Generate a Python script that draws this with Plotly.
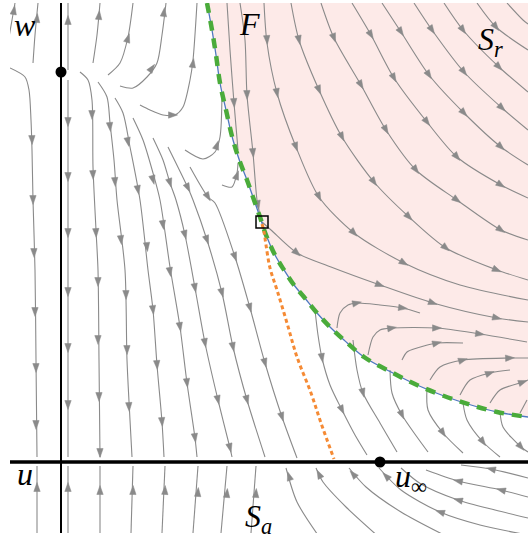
import math
import plotly.graph_objects as go

# ---------------- data (u, w) ----------------
U_RANGE = [-51, 467]
W_RANGE = [-71, 459]

fold_u = [146, 151, 155, 159, 165, 172, 179, 186, 193, 199, 205, 214, 223, 233, 243, 256, 269, 283, 303, 330, 356, 383, 410, 436, 467]
fold_w = [459, 432, 407, 379, 352, 322, 300, 282, 262, 245, 227, 207, 192, 177, 165, 149, 135, 122, 105, 90, 77, 66, 57, 50, 45]

canard_u = [201, 203, 205, 209, 216, 226, 236, 250, 260, 273]
canard_w = [238, 230, 217, 194, 172, 139, 105, 69, 39, 3]

fold_point = (201, 240)
equilibria_u = [0, 319]
equilibria_w = [390, 0]

# streamlines in the attracting sheet, upper fan (points in flow order, arrow positions)
fan_lines = [
    ([(-51, 394), (-36, 385), (-32, 372), (-30, 342), (-29, 312), (-28, 262), (-26, 192), (-25, 102), (-24, 5)],
     [(-29, 322), (-28, 262), (-27, 209), (-26, 150), (-25, 94), (-25, 37)]),
    ([(7, 382), (7, 5)], [(7, 340), (7, 285), (7, 229), (7, 170), (7, 114), (7, 57)]),
    ([(19, 390), (27, 382), (31, 362), (32, 295), (35, 232), (37, 192), (38, 102), (39, 5)],
     [(31, 347), (32, 287), (35, 229), (37, 180), (37, 122), (38, 65), (39, 9)]),
    ([(37, 380), (46, 365), (49, 339), (53, 302), (56, 262), (64, 192), (66, 102), (69, 42), (71, 5)],
     [(49, 335), (54, 280), (60, 222), (65, 167), (66, 112), (68, 55)]),
    ([(54, 364), (62, 349), (69, 315), (79, 262), (87, 192), (92, 152), (96, 97), (101, 40), (103, 5)],
     [(67, 320), (77, 272), (86, 215), (92, 152), (96, 97), (101, 40)]),
    ([(72, 344), (82, 322), (92, 289), (99, 262), (109, 195), (119, 135), (126, 79), (134, 24), (136, 5)],
     [(92, 282), (102, 237), (109, 190), (119, 135), (126, 79), (134, 24)]),
    ([(92, 324), (102, 302), (109, 279), (115, 262), (124, 227), (134, 174), (144, 119), (157, 62), (169, 14), (171, 5)],
     [(109, 279), (124, 227), (134, 174), (144, 119), (157, 62), (169, 14)]),
    ([(107, 315), (127, 274), (132, 262), (146, 222), (161, 169), (172, 115), (186, 62), (204, 5)],
     [(127, 274), (146, 222), (161, 169), (172, 115), (186, 62)]),
    ([(129, 295), (147, 265), (154, 259), (174, 205), (189, 154), (204, 99), (221, 45), (236, 4)],
     [(147, 265), (174, 205), (189, 154), (204, 99), (221, 45)]),
]

# streamlines going up near the top of the attracting sheet
up_lines = [
    ([(-53, 419), (-49, 442), (-46, 459)], [(-47, 452)]),
    ([(-28, 399), (-26, 427), (-23, 459)], [(-24, 444)]),
    ([(7, 392), (7, 459)], [(7, 442)]),
    ([(32, 399), (36, 427), (39, 459)], [(38, 447)]),
    ([(47, 387), (59, 399), (67, 425), (72, 459)], [(67, 424)]),
    ([(59, 376), (72, 374), (86, 385), (96, 399), (101, 427), (105, 459)], [(91, 394), (103, 450)]),
    ([(79, 357), (89, 352), (102, 347), (114, 347), (122, 355), (129, 382), (132, 402), (136, 459)], [(112, 347), (132, 399)]),
    ([(124, 312), (142, 303), (154, 310), (159, 325), (161, 369)], [(156, 317)]),
    ([(161, 277), (171, 275), (176, 289), (177, 299)], [(176, 287)]),
]

# streamlines in the repelling sheet
rep_lines = [
    ([(166, 459), (169, 412), (173, 359), (177, 312)], [(173, 359)]),
    ([(179, 459), (184, 422), (186, 367), (192, 309), (196, 262), (199, 247)], [(186, 367), (192, 309), (197, 257)]),
    ([(201, 240), (210, 232), (236, 209), (270, 195), (319, 177), (372, 159), (436, 144), (467, 140)],
     [(236, 209), (319, 177), (372, 159), (436, 144)]),
    ([(203, 459), (206, 419), (216, 369), (235, 315), (258, 265), (293, 229), (343, 199), (399, 177), (467, 162)],
     [(206, 422), (216, 369), (235, 315), (258, 265), (293, 229), (343, 199)]),
    ([(230, 459), (238, 422), (258, 372), (281, 325), (313, 280), (348, 245), (385, 214), (436, 192), (467, 182)],
     [(238, 422), (258, 372), (281, 325), (313, 280), (348, 245), (385, 214), (436, 192)]),
    ([(260, 459), (273, 424), (300, 377), (325, 332), (355, 292), (396, 262), (440, 232), (467, 222)],
     [(273, 424), (300, 377), (325, 332), (355, 292), (396, 262), (440, 232)]),
    ([(291, 459), (310, 427), (333, 384), (366, 340), (396, 305), (440, 277), (467, 264)],
     [(310, 427), (333, 384), (366, 340), (396, 305), (440, 277)]),
    ([(321, 459), (340, 430), (368, 387), (403, 349), (440, 315), (467, 297)],
     [(340, 430), (368, 387), (403, 349), (440, 315)]),
    ([(353, 459), (371, 432), (403, 390), (441, 354), (467, 332)], [(371, 432), (403, 390), (441, 354)]),
    ([(383, 459), (402, 432), (438, 395), (467, 370)], [(402, 432), (438, 395)]),
    ([(416, 459), (435, 435), (467, 412)], [(435, 435)]),
    ([(446, 459), (462, 442), (467, 438)], []),
    ([(276, 134), (279, 149), (287, 157), (296, 159), (319, 157), (342, 154), (359, 149)], [(296, 159), (342, 154)]),
    ([(307, 107), (312, 125), (319, 132), (331, 134), (376, 134), (419, 128), (466, 120)], [(331, 134), (376, 134), (419, 128)]),
    ([(341, 102), (346, 110), (356, 114), (376, 119), (402, 119)], [(376, 119)]),
    ([(369, 82), (379, 95), (402, 102), (449, 104), (467, 104)], [(402, 102), (449, 104)]),
    ([(399, 67), (409, 82), (429, 89), (449, 92)], [(429, 89)]),
    ([(429, 59), (439, 72), (462, 80), (467, 82)], [(462, 80)]),
    ([(459, 49), (466, 62)], []),
]

# streamlines leaving the fold downwards, right of the canard
down_lines = [
    ([(254, 152), (257, 127), (261, 104), (269, 77), (281, 52), (294, 27), (306, 7)], [(261, 104), (281, 52)]),
    ([(292, 122), (296, 92), (302, 69), (319, 39), (336, 10)], [(302, 69)]),
    ([(329, 92), (331, 69), (341, 47), (356, 25), (367, 10)], [(341, 47)]),
    ([(366, 74), (367, 52), (382, 29), (402, 9)], [(382, 29)]),
    ([(402, 59), (406, 42), (422, 20), (439, 5)], [(422, 20)]),
    ([(439, 50), (442, 35), (460, 15), (467, 10)], [(460, 15)]),
]

# streamlines below the u axis
low_lines = [
    ([(-24, -71), (-24, -4)], [(-24, -25)]),
    ([(7, -71), (7, -4)], [(7, -25)]),
    ([(39, -71), (39, -4)], [(39, -28)]),
    ([(70, -71), (72, -4)], [(72, -28)]),
    ([(101, -71), (104, -4)], [(104, -28)]),
    ([(132, -71), (137, -4)], [(137, -30)]),
    ([(160, -71), (166, -4)], [(166, -31)]),
    ([(190, -71), (195, -4)], [(195, -31)]),
    ([(259, -76), (236, -40), (225, -6)], [(228, -14)]),
    ([(319, -76), (285, -45), (262, -20), (255, -6)], [(258, -12)]),
    ([(389, -76), (340, -50), (305, -25), (288, -6)], [(292, -12)]),
    ([(467, -73), (419, -63), (379, -50), (340, -28), (318, -6)], [(379, -50), (325, -14)]),
    ([(467, -56), (434, -48), (397, -38), (360, -22), (340, -6)], [(397, -38)]),
    ([(467, -35), (440, -28), (397, -19), (365, -8)], [(440, -28), (397, -19)]),
    ([(467, -16), (430, -7), (400, -3)], [(430, -7)]),
]

# ---------------- styling ----------------
GRAY = "#8a8a8a"
PINK = "#fdeae8"
GREEN = "#4aab3a"
BLUE = "#4e79c0"
ORANGE = "#f58a34"
SERIF = "Liberation Serif, DejaVu Serif, serif"
HEAD_LEN = 9.0   # arrow head length (axis units == pixels here)
HEAD_HALF = 3.2  # arrow head half width

fig = go.Figure()

# repelling region fill
fig.add_trace(go.Scatter(
    x=fold_u + [U_RANGE[1], U_RANGE[1]], y=fold_w + [W_RANGE[1], W_RANGE[1]],
    fill="toself", fillcolor=PINK, line=dict(width=0), mode="lines", hoverinfo="skip"))


def add_streams(lines):
    xs, ys, hx, hy = [], [], [], []
    for pts, arrows in lines:
        xs += [p[0] for p in pts] + [None]
        ys += [p[1] for p in pts] + [None]
        for a in arrows:
            best, bi = 1e18, 0
            for i in range(len(pts) - 1):
                (x0, y0), (x1, y1) = pts[i], pts[i + 1]
                dx, dy = x1 - x0, y1 - y0
                L = dx * dx + dy * dy or 1
                t = max(0, min(1, ((a[0] - x0) * dx + (a[1] - y0) * dy) / L))
                d = (x0 + t * dx - a[0]) ** 2 + (y0 + t * dy - a[1]) ** 2
                if d < best:
                    best, bi = d, i
            (x0, y0), (x1, y1) = pts[bi], pts[bi + 1]
            n = math.hypot(x1 - x0, y1 - y0) or 1
            ex, ey = (x1 - x0) / n, (y1 - y0) / n
            px, py = -ey, ex
            tipx, tipy = a[0] + ex * HEAD_LEN / 2, a[1] + ey * HEAD_LEN / 2
            bx, by = a[0] - ex * HEAD_LEN / 2, a[1] - ey * HEAD_LEN / 2
            hx += [tipx, bx + px * HEAD_HALF, bx - px * HEAD_HALF, tipx, None]
            hy += [tipy, by + py * HEAD_HALF, by - py * HEAD_HALF, tipy, None]
    fig.add_trace(go.Scatter(x=xs, y=ys, mode="lines", hoverinfo="skip",
                             line=dict(color=GRAY, width=1.1, shape="spline", smoothing=0.8)))
    fig.add_trace(go.Scatter(x=hx, y=hy, mode="lines", fill="toself", fillcolor=GRAY,
                             line=dict(color=GRAY, width=0.5), hoverinfo="skip"))


for group in (fan_lines, up_lines, rep_lines, down_lines, low_lines):
    add_streams(group)

# axes of the phase plane
fig.add_trace(go.Scatter(x=[0, 0], y=W_RANGE, mode="lines", line=dict(color="black", width=2), hoverinfo="skip"))
fig.add_trace(go.Scatter(x=U_RANGE, y=[0, 0], mode="lines", line=dict(color="black", width=3.5), hoverinfo="skip"))

# fold curve
fig.add_trace(go.Scatter(x=fold_u, y=fold_w, mode="lines", line=dict(color=BLUE, width=1.3, shape="spline"), hoverinfo="skip"))
fig.add_trace(go.Scatter(x=fold_u, y=fold_w, mode="lines",
                         line=dict(color=GREEN, width=4.5, dash="10px,8px", shape="spline"), hoverinfo="skip"))
# canard
fig.add_trace(go.Scatter(x=canard_u, y=canard_w, mode="lines",
                         line=dict(color=ORANGE, width=3, dash="4px,3px", shape="spline"), hoverinfo="skip"))
# folded singularity
fig.add_trace(go.Scatter(x=[fold_point[0]], y=[fold_point[1]], mode="markers",
                         marker=dict(symbol="square-open", size=12, color="black", line=dict(width=1.5)), hoverinfo="skip"))
# equilibria
fig.add_trace(go.Scatter(x=equilibria_u, y=equilibria_w, mode="markers",
                         marker=dict(symbol="circle", size=11, color="black"), hoverinfo="skip"))

labels = [
    (-36, 437, "<i>w</i>"),
    (188, 438, "<i>F</i>"),
    (429, 421, "<i>S</i><sub><i>r</i></sub>"),
    (-36, -12, "<i>u</i>"),
    (350, -16, "<i>u</i><sub>∞</sub>"),
    (197, -56, "<i>S</i><sub><i>a</i></sub>"),
]
for x, y, t in labels:
    fig.add_annotation(x=x, y=y, text=t, showarrow=False, xanchor="center", yanchor="middle",
                       font=dict(family=SERIF, size=32, color="black"))

fig.update_layout(
    width=528, height=538, showlegend=False,
    margin=dict(l=10, r=0, t=3, b=5),
    paper_bgcolor="white", plot_bgcolor="white",
    xaxis=dict(range=U_RANGE, visible=False),
    yaxis=dict(range=W_RANGE, visible=False),
)

fig.write_html("out.html", config={"displayModeBar": False, "staticPlot": True},
               post_script="document.body.style.margin='0px';")
